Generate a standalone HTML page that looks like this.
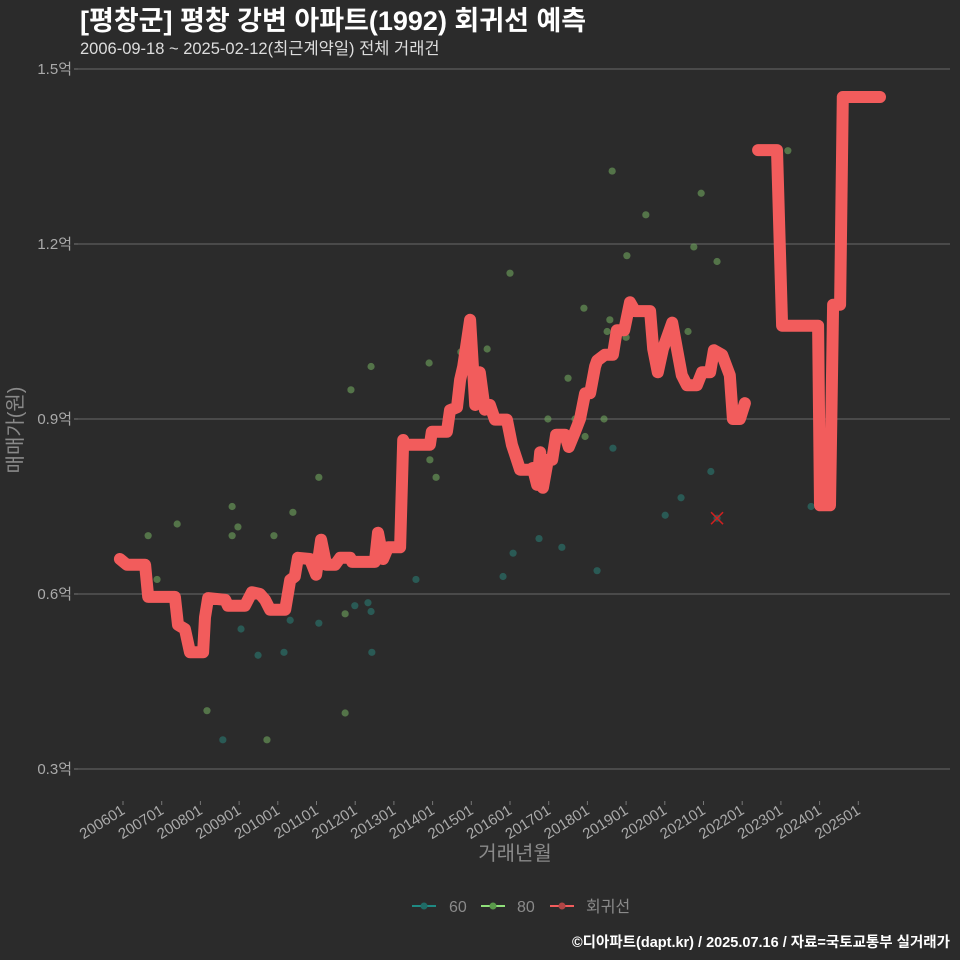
<!DOCTYPE html>
<html><head><meta charset="utf-8"><style>
html,body{margin:0;padding:0;background:#2b2b2b;}
svg{display:block;font-family:"Liberation Sans","Noto Sans CJK KR",sans-serif;}
</style></head><body>
<svg id="chart" width="960" height="960" viewBox="0 0 960 960" xmlns="http://www.w3.org/2000/svg">
<rect width="960" height="960" fill="#2b2b2b"/>
<text x="80" y="30" fill="#ffffff" font-size="27" font-weight="bold">[평창군] 평창 강변 아파트(1992) 회귀선 예측</text>
<text x="80" y="54" fill="#dddddd" font-size="16.5">2006-09-18 ~ 2025-02-12(최근계약일) 전체 거래건</text>
<g id="grid"></g>
<g id="points"></g>
<g id="line"></g>
<g id="xaxis"></g>
<text x="515" y="860" fill="#8a8a8a" font-size="20" text-anchor="middle">거래년월</text>
<text transform="translate(22,430) rotate(-90)" fill="#8a8a8a" font-size="20" text-anchor="middle">매매가(원)</text>
<g>
  <g>
    <line x1="412" y1="906" x2="436" y2="906" stroke="#1f8a83" stroke-width="2"/><circle cx="424" cy="906" r="3.5" fill="#1f6b66"/>
    <text x="449" y="912" fill="#8a8a8a" font-size="16">60</text></g>
  <g>
    <line x1="481" y1="906" x2="505" y2="906" stroke="#8fe07a" stroke-width="2"/><circle cx="493" cy="906" r="3.5" fill="#5a9a4a"/>
    <text x="517" y="912" fill="#8a8a8a" font-size="16">80</text></g>
  <g>
    <line x1="550" y1="906" x2="574" y2="906" stroke="#f25c5c" stroke-width="2"/><circle cx="562" cy="906" r="3.5" fill="#b04545"/>
    <text x="586" y="912" fill="#8a8a8a" font-size="16">회귀선</text></g>
</g>
<text x="950" y="947" fill="#ffffff" font-size="14.5" font-weight="bold" text-anchor="end">©디아파트(dapt.kr) / 2025.07.16 / 자료=국토교통부 실거래가</text>
</svg>
<script>
const yTicks=[0.3,0.6,0.9,1.2,1.5];
const yTickLabels=["0.3억","0.6억","0.9억","1.2억","1.5억"];
const xTickYears=[2006,2007,2008,2009,2010,2011,2012,2013,2014,2015,2016,2017,2018,2019,2020,2021,2022,2023,2024,2025];
const xTickLabels=["200601","200701","200801","200901","201001","201101","201201","201301","201401","201501","201601","201701","201801","201901","202001","202101","202201","202301","202401","202501"];
const pts80Years=[2006.65,2006.88,2007.40,2008.17,2008.82,2008.82,2008.97,2009.72,2009.90,2010.39,2011.06,2011.74,2011.74,2011.89,2012.41,2013.91,2013.93,2014.09,2014.73,2015.41,2016.00,2016.98,2017.50,2017.68,2017.91,2017.94,2018.43,2018.51,2018.58,2018.64,2019.00,2019.02,2019.51,2020.60,2020.75,2020.94,2021.35,2023.18];
const pts80Values=[0.70,0.625,0.72,0.40,0.75,0.70,0.715,0.35,0.70,0.74,0.80,0.566,0.396,0.95,0.99,0.996,0.83,0.80,1.015,1.02,1.15,0.90,0.97,0.90,1.09,0.87,0.90,1.05,1.07,1.325,1.04,1.18,1.25,1.05,1.195,1.287,1.17,1.36];
const pts60Years=[2008.58,2009.05,2009.49,2010.16,2010.32,2011.06,2011.99,2012.33,2012.41,2012.43,2013.57,2015.82,2016.08,2016.75,2017.34,2018.25,2018.66,2020.01,2020.42,2021.19,2021.35,2023.78];
const pts60Values=[0.35,0.54,0.495,0.50,0.555,0.55,0.58,0.585,0.57,0.50,0.625,0.63,0.67,0.695,0.68,0.64,0.85,0.735,0.765,0.81,0.73,0.75];
const outlierYears=[2021.35];
const outlierValues=[0.73];
const reg1Years=[2005.92,2006.10,2006.57,2006.65,2007.34,2007.42,2007.60,2007.73,2008.07,2008.12,2008.20,2008.64,2008.71,2009.15,2009.33,2009.54,2009.67,2009.80,2010.19,2010.32,2010.44,2010.52,2010.83,2010.99,2011.12,2011.25,2011.48,2011.61,2011.87,2011.92,2012.51,2012.59,2012.72,2012.85,2013.16,2013.24,2013.29,2013.93,2013.98,2014.37,2014.45,2014.63,2014.71,2014.79,2014.97,2015.10,2015.22,2015.35,2015.48,2015.61,2015.92,2016.05,2016.26,2016.52,2016.59,2016.70,2016.78,2016.85,2016.98,2017.09,2017.19,2017.42,2017.52,2017.68,2017.81,2017.94,2018.07,2018.20,2018.25,2018.45,2018.66,2018.76,2018.95,2019.10,2019.23,2019.62,2019.70,2019.82,2019.95,2020.19,2020.32,2020.44,2020.57,2020.83,2020.96,2021.17,2021.27,2021.48,2021.68,2021.76,2021.94,2022.07];
const reg1Values=[0.66,0.65,0.65,0.595,0.595,0.547,0.54,0.50,0.50,0.56,0.593,0.59,0.58,0.58,0.603,0.60,0.59,0.573,0.573,0.624,0.63,0.662,0.66,0.633,0.693,0.65,0.65,0.662,0.662,0.655,0.655,0.705,0.66,0.68,0.68,0.864,0.856,0.856,0.878,0.878,0.915,0.92,0.967,0.99,1.07,0.924,0.98,0.916,0.924,0.899,0.899,0.856,0.813,0.813,0.816,0.787,0.843,0.782,0.83,0.83,0.873,0.873,0.852,0.878,0.9,0.944,0.944,0.99,1.0,1.01,1.01,1.052,1.052,1.1,1.085,1.085,1.02,0.98,1.02,1.065,1.018,0.975,0.958,0.958,0.98,0.98,1.018,1.01,0.975,0.9,0.9,0.927];
const reg2Years=[2022.41,2022.90,2023.03,2023.96,2024.01,2024.27,2024.35,2024.53,2024.60,2025.56];
const reg2Values=[1.361,1.361,1.06,1.06,0.752,0.752,1.096,1.096,1.452,1.452];

const NS="http://www.w3.org/2000/svg";
const X=yr=>123+(yr-2006)*38.7;
const Y=v=>69+(1.5-v)*583.33;
function mk(tag,attrs,parent){const e=document.createElementNS(NS,tag);for(const k in attrs)e.setAttribute(k,attrs[k]);parent.appendChild(e);return e;}
const grid=document.getElementById('grid');
yTicks.forEach((v,i)=>{
  const l=mk('line',{x1:78,x2:950,y1:Y(v),y2:Y(v),stroke:'#5e5e5e','stroke-width':1.2},grid);
  
  
  const tk=mk('line',{x1:74,x2:78,y1:Y(v),y2:Y(v),stroke:'#777'},grid);
  
  
  const t=mk('text',{x:72,y:Y(v)+5,fill:'#aaaaaa','font-size':15,'text-anchor':'end'},grid);
  t.textContent=yTickLabels[i];
  
  
});
const xa=document.getElementById('xaxis');
xTickYears.forEach((yr,i)=>{
  const x=X(yr);
  const tk=mk('line',{x1:x,x2:x,y1:801,y2:805,stroke:'#777'},xa);
  
  
  const t=mk('text',{transform:`translate(${x+3},${813}) rotate(-32)`,fill:'#aaaaaa','font-size':15,'text-anchor':'end'},xa);
  t.textContent=xTickLabels[i];
  
  
});
const pg=document.getElementById('points');
pts80Years.forEach((yr,i)=>{
  const c=mk('circle',{cx:X(yr),cy:Y(pts80Values[i]),r:3.6,fill:'#6fa55e','fill-opacity':0.6},pg);
  
  
});
pts60Years.forEach((yr,i)=>{
  const c=mk('circle',{cx:X(yr),cy:Y(pts60Values[i]),r:3.6,fill:'#2a7a72','fill-opacity':0.6},pg);
  
  
});
outlierYears.forEach((yr,i)=>{
  const x=X(yr),y=Y(outlierValues[i]);
  const p=mk('path',{d:`M${x-6},${y-6}L${x+6},${y+6}M${x+6},${y-6}L${x-6},${y+6}`,stroke:'#d02020','stroke-width':1.5},pg);
  
  
});
const lg=document.getElementById('line');
[[reg1Years,reg1Values],[reg2Years,reg2Values]].forEach(([ys,vs])=>{
  const d=ys.map((yr,i)=>(i?'L':'M')+X(yr).toFixed(1)+','+Y(vs[i]).toFixed(1)).join('');
  const p=mk('path',{d:d,fill:'none',stroke:'#f25c5c','stroke-width':12,'stroke-linejoin':'round','stroke-linecap':'round'},lg);
  
  
});
</script>
</body></html>
